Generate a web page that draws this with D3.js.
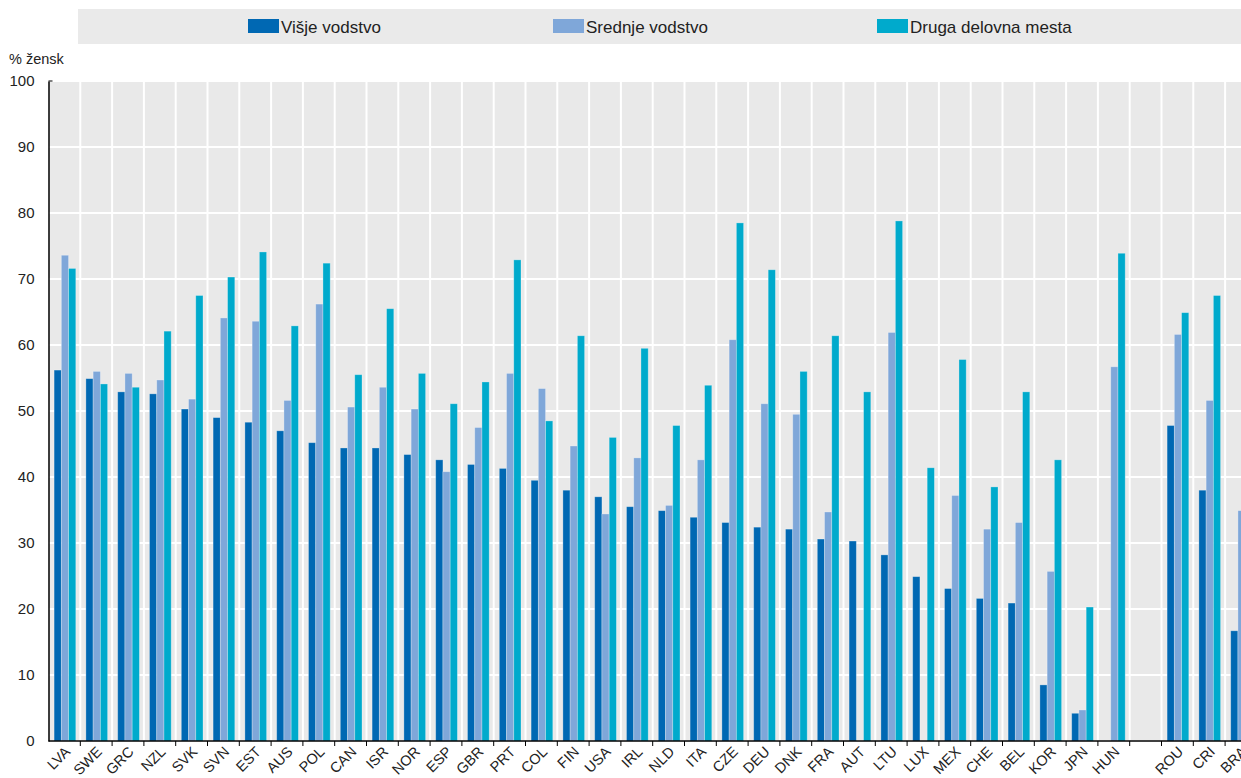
<!DOCTYPE html>
<html>
<head>
<meta charset="utf-8">
<script src="https://cdn.jsdelivr.net/npm/d3@7"></script>
<style>
  body { margin: 0; background: #fff; overflow: hidden; }
  svg { display: block; font-family: 'Liberation Sans', Arial, sans-serif; }
</style>
</head>
<body>
<div id="chart"></div>
<script>
// country codes, '' marks the empty slot before the partner countries
const countries = ['LVA', 'SWE', 'GRC', 'NZL', 'SVK', 'SVN', 'EST', 'AUS', 'POL', 'CAN',
  'ISR', 'NOR', 'ESP', 'GBR', 'PRT', 'COL', 'FIN', 'USA', 'IRL', 'NLD', 'ITA', 'CZE',
  'DEU', 'DNK', 'FRA', 'AUT', 'LTU', 'LUX', 'MEX', 'CHE', 'BEL', 'KOR', 'JPN', 'HUN',
  '', 'ROU', 'CRI', 'BRA']

const seriesNames = ['Višje vodstvo', 'Srednje vodstvo', 'Druga delovna mesta']

const senior = [56.2, 54.9, 52.9, 52.6, 50.3, 49.0, 48.3, 47.0, 45.2, 44.4,
  44.4, 43.4, 42.6, 41.9, 41.3, 39.5, 38.0, 37.0, 35.5, 34.9, 33.9, 33.1,
  32.4, 32.1, 30.6, 30.3, 28.2, 24.9, 23.1, 21.6, 20.9, 8.5, 4.2, null,
  null, 47.8, 38.0, 16.7]

const middle = [73.6, 56.0, 55.7, 54.7, 51.8, 64.1, 63.6, 51.6, 66.2, 50.6,
  53.6, 50.3, 40.8, 47.5, 55.7, 53.4, 44.7, 34.4, 42.9, 35.7, 42.6, 60.8,
  51.1, 49.5, 34.7, null, 61.9, null, 37.2, 32.1, 33.1, 25.7, 4.7, 56.7,
  null, 61.6, 51.6, 34.9]

const other = [71.6, 54.1, 53.6, 62.1, 67.5, 70.3, 74.1, 62.9, 72.4, 55.5,
  65.5, 55.7, 51.1, 54.4, 72.9, 48.5, 61.4, 46.0, 59.5, 47.8, 53.9, 78.5,
  71.4, 56.0, 61.4, 52.9, 78.8, 41.4, 57.8, 38.5, 52.9, 42.6, 20.3, 73.9,
  null, 64.9, 67.5, null]

const yTicks = [0, 10, 20, 30, 40, 50, 60, 70, 80, 90, 100]
const colors = ['#0068B3', '#7FA7D9', '#00AACC']

const fullWidth = 1241, fullHeight = 778
const plotLeft = 48.5, plotTop = 81, plotBottom = 741
const step = 31.8

const svg = d3.select('#chart')
  .append('svg')
    .attr('width', fullWidth)
    .attr('height', fullHeight)

// legend strip
svg.append('rect')
  .attr('x', 78).attr('y', 9)
  .attr('width', fullWidth - 78).attr('height', 35)
  .attr('fill', '#EAEAEA')

const legendX = [248, 553, 877]
seriesNames.forEach((name, i) => {
  svg.append('rect')
    .attr('x', legendX[i]).attr('y', 19)
    .attr('width', 31).attr('height', 14)
    .attr('fill', colors[i])
  svg.append('text')
    .attr('x', legendX[i] + 33).attr('y', 32.5)
    .attr('font-size', 17)
    .attr('fill', '#222')
    .text(name)
})

svg.append('text')
  .attr('x', 9).attr('y', 64)
  .attr('font-size', 14.5)
  .attr('fill', '#222')
  .text('% žensk')

const xScale = d3.scaleBand()
  .domain(countries.map((c, i) => i))
  .range([plotLeft, plotLeft + step * countries.length])
  .padding(0)

const xSub = d3.scaleBand()
  .domain([0, 1, 2])
  .range([5.6, 27.3])

const yScale = d3.scaleLinear()
  .domain([0, 100])
  .range([plotBottom, plotTop])

const plotRight = xScale.range()[1]

svg.append('rect')
  .attr('x', plotLeft).attr('y', plotTop)
  .attr('width', plotRight - plotLeft).attr('height', plotBottom - plotTop)
  .attr('fill', '#E9E9E9')

// horizontal grid
svg.append('g')
  .selectAll('line')
  .data(yTicks)
  .join('line')
    .attr('x1', plotLeft).attr('x2', plotRight)
    .attr('y1', d => yScale(d)).attr('y2', d => yScale(d))
    .attr('stroke', '#fff')
    .attr('stroke-width', 2)

// vertical grid at band edges
const edges = countries.map((c, i) => xScale(i)).slice(1)
svg.append('g')
  .selectAll('line')
  .data(edges)
  .join('line')
    .attr('x1', d => d).attr('x2', d => d)
    .attr('y1', plotTop).attr('y2', plotBottom)
    .attr('stroke', '#fff')
    .attr('stroke-width', 2)

// bars
const allSeries = [senior, middle, other]
allSeries.forEach((values, s) => {
  svg.append('g')
    .selectAll('rect')
    .data(values.map((v, i) => ({ i, v })).filter(d => d.v != null))
    .join('rect')
      .attr('x', d => xScale(d.i) + xSub(s))
      .attr('width', xSub.bandwidth())
      .attr('y', d => yScale(d.v))
      .attr('height', d => yScale(0) - yScale(d.v))
      .attr('fill', colors[s])
      .attr('stroke', 'rgba(255,255,255,0.35)')
      .attr('stroke-width', 0.8)
})

// y axis
const yAxis = svg.append('g')
  .attr('transform', `translate(${plotLeft}, 0)`)
  .call(d3.axisLeft(yScale).tickValues(yTicks).tickSize(0).tickPadding(14))
yAxis.select('.domain').attr('stroke', '#000').attr('stroke-width', 1.5)
yAxis.selectAll('text')
  .attr('font-size', 15)
  .attr('fill', '#222')
  .attr('font-family', "'Liberation Sans', Arial, sans-serif")

svg.append('line')
  .attr('x1', plotLeft).attr('x2', plotLeft + 4)
  .attr('y1', plotTop).attr('y2', plotTop)
  .attr('stroke', '#000')

// x axis line with ticks at band edges
svg.append('line')
  .attr('x1', plotLeft).attr('x2', plotRight)
  .attr('y1', plotBottom).attr('y2', plotBottom)
  .attr('stroke', '#000').attr('stroke-width', 1.5)

svg.append('g')
  .selectAll('line')
  .data(edges)
  .join('line')
    .attr('x1', d => d).attr('x2', d => d)
    .attr('y1', plotBottom).attr('y2', plotBottom + 5)
    .attr('stroke', '#000')

svg.append('g')
  .selectAll('text')
  .data(countries)
  .join('text')
    .attr('transform', (d, i) => `translate(${xScale(i) + step / 2 - 1}, ${plotBottom + 4}) rotate(-45)`)
    .attr('text-anchor', 'end')
    .attr('dy', '0.75em')
    .attr('font-size', 14.5)
    .attr('fill', '#222')
    .text(d => d)
</script>
</body>
</html>
